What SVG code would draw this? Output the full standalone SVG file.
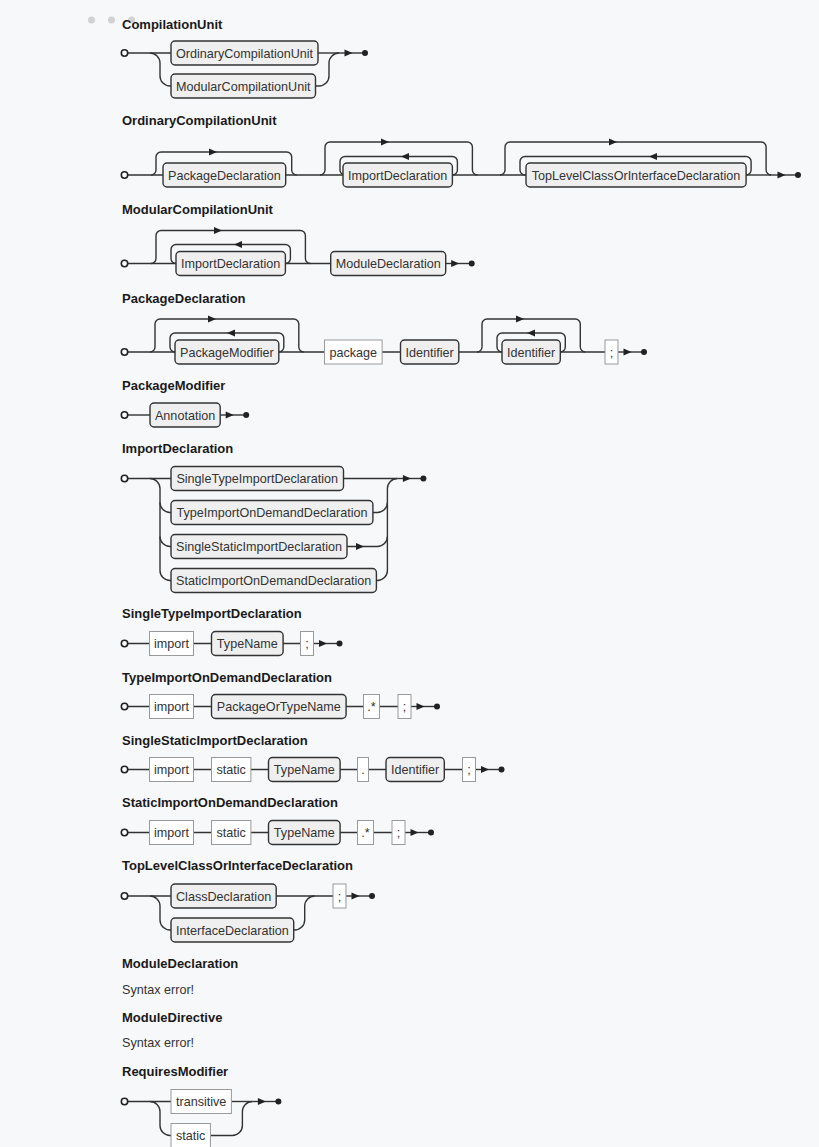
<svg xmlns="http://www.w3.org/2000/svg" xmlns:xlink="http://www.w3.org/1999/xlink" width="819" height="1147" viewBox="0 0 819 1147">
<style>
.t{font-family:"Liberation Sans",Arial,sans-serif;font-weight:bold;font-size:13px;fill:#1a1a1a}
.err{font-family:"Liberation Sans",Arial,sans-serif;font-size:12.6px;fill:#333}
.nt rect{fill:#efefef;stroke:#333;stroke-width:1.4}
.tm rect{fill:#fff;stroke:#9a9a9a;stroke-width:1}
.nt text,.tm text{font-family:"Liberation Sans",Arial,sans-serif;font-size:12.6px;fill:#333;text-anchor:middle}
.c path{fill:none;stroke:#333;stroke-width:1.4}
.st{fill:#fff;stroke:#222;stroke-width:1.6}
.win{fill:#d2d2d4}
</style>
<defs>
<path id="ar" d="M-4,-3.5 L4,0 L-4,3.5 Z" fill="#222"/>
<path id="al" d="M4,-3.5 L-4,0 L4,3.5 Z" fill="#222"/>
<g id="end"><path d="M0,0 H24" fill="none" stroke="#333" stroke-width="1.4"/><path d="M5.5,-3.5 L13.5,0 L5.5,3.5 Z" fill="#222"/><circle cx="26" cy="0" r="3" fill="#222"/></g>
</defs>
<rect width="819" height="1147" fill="#f7f8fa"/>
<circle class="win" cx="91.5" cy="20" r="3.5"/><circle class="win" cx="111.5" cy="20" r="3.5"/><circle class="win" cx="131.5" cy="20" r="3.5"/>

<!-- CompilationUnit -->
<g id="d-compilationunit">
<text class="t" x="122" y="28.5">CompilationUnit</text>
<g class="c" id="c-cu">
<path d="M128,53 H171"/>
<path d="M150,53 A10,10 0 0 1 160,63 V76 A10,10 0 0 0 170,86 H171"/>
<path d="M318,53 H339"/>
<path d="M315.5,86 H319 A10,10 0 0 0 329,76 V63 A10,10 0 0 1 339,53"/>
<use href="#end" x="339" y="53"/>
</g>
<circle class="st" cx="124.5" cy="53" r="3.2"/>
<g id="cu-ord" class="nt"><rect x="171" y="41" width="147" height="24" rx="4"/><text x="244.5" y="57.5">OrdinaryCompilationUnit</text></g>
<g id="cu-mod" class="nt"><rect x="171" y="74" width="144.5" height="24" rx="4"/><text x="243.25" y="90.5">ModularCompilationUnit</text></g>
</g>

<!-- OrdinaryCompilationUnit -->
<g id="d-ordinary">
<text class="t" x="122" y="124.5">OrdinaryCompilationUnit</text>
<g class="c" id="c-ord">
<path d="M128,175 H163"/>
<path d="M151,175 A5,5 0 0 0 156,170 V157 A5,5 0 0 1 161,152 H286.7 A5,5 0 0 1 291.7,157 V170 A5,5 0 0 0 296.7,175"/>
<path d="M285.7,175 H343"/>
<path d="M320,175 A5,5 0 0 0 325,170 V147 A5,5 0 0 1 330,142 H467.4 A5,5 0 0 1 472.4,147 V170 A5,5 0 0 0 477.4,175"/>
<path d="M452.4,175 A5,5 0 0 0 457.4,170 V161.5 A5,5 0 0 0 452.4,156.5 H345 A5,5 0 0 0 340,161.5 V170 A5,5 0 0 0 345,175"/>
<path d="M452.4,175 H526"/>
<path d="M500,175 A5,5 0 0 0 505,170 V147 A5,5 0 0 1 510,142 H761.1 A5,5 0 0 1 766.1,147 V170 A5,5 0 0 0 771.1,175"/>
<path d="M746.1,175 A5,5 0 0 0 751.1,170 V161.5 A5,5 0 0 0 746.1,156.5 H525 A5,5 0 0 0 520,161.5 V170 A5,5 0 0 0 525,175"/>
<path d="M746.1,175 H772"/>
<use href="#ar" x="213" y="152"/>
<use href="#ar" x="385" y="142"/>
<use href="#al" x="405" y="156.5"/>
<use href="#ar" x="613" y="142"/>
<use href="#al" x="653" y="156.5"/>
<use href="#end" x="772" y="175"/>
</g>
<circle class="st" cx="124.5" cy="175" r="3.2"/>
<g id="ord-pkg" class="nt"><rect x="163" y="163" width="122.7" height="24" rx="4"/><text x="224.35" y="179.5">PackageDeclaration</text></g>
<g id="ord-imp" class="nt"><rect x="343" y="163" width="109.4" height="24" rx="4"/><text x="397.7" y="179.5">ImportDeclaration</text></g>
<g id="ord-top" class="nt"><rect x="526" y="163" width="220.1" height="24" rx="4"/><text x="636.05" y="179.5">TopLevelClassOrInterfaceDeclaration</text></g>
</g>

<!-- ModularCompilationUnit -->
<g id="d-modular">
<text class="t" x="122" y="214">ModularCompilationUnit</text>
<g class="c" id="c-mod">
<path d="M128,263.5 H176"/>
<path d="M151,263.5 A5,5 0 0 0 156,258.5 V235.5 A5,5 0 0 1 161,230.5 H300.4 A5,5 0 0 1 305.4,235.5 V258.5 A5,5 0 0 0 310.4,263.5"/>
<path d="M285.4,263.5 A5,5 0 0 0 290.4,258.5 V249.5 A5,5 0 0 0 285.4,244.5 H176 A5,5 0 0 0 171,249.5 V258.5 A5,5 0 0 0 176,263.5"/>
<path d="M285.4,263.5 H330.7"/>
<use href="#ar" x="218" y="230.5"/>
<use href="#al" x="238" y="244.5"/>
<use href="#end" x="445.7" y="263.5"/>
</g>
<circle class="st" cx="124.5" cy="263.5" r="3.2"/>
<g id="mod-imp" class="nt"><rect x="176" y="251.5" width="109.4" height="24" rx="4"/><text x="230.7" y="268">ImportDeclaration</text></g>
<g id="mod-module" class="nt"><rect x="330.7" y="251.5" width="115" height="24" rx="4"/><text x="388.2" y="268">ModuleDeclaration</text></g>
</g>

<!-- PackageDeclaration -->
<g id="d-package">
<text class="t" x="122" y="303">PackageDeclaration</text>
<g class="c" id="c-pkg">
<path d="M128,352 H175"/>
<path d="M150,352 A5,5 0 0 0 155,347 V324 A5,5 0 0 1 160,319 H293.8 A5,5 0 0 1 298.8,324 V347 A5,5 0 0 0 303.8,352"/>
<path d="M278.8,352 A5,5 0 0 0 283.8,347 V338 A5,5 0 0 0 278.8,333 H175 A5,5 0 0 0 170,338 V347 A5,5 0 0 0 175,352"/>
<path d="M278.8,352 H502"/>
<path d="M477,352 A5,5 0 0 0 482,347 V324 A5,5 0 0 1 487,319 H575.3 A5,5 0 0 1 580.3,324 V347 A5,5 0 0 0 585.3,352"/>
<path d="M560.3,352 A5,5 0 0 0 565.3,347 V338 A5,5 0 0 0 560.3,333 H502 A5,5 0 0 0 497,338 V347 A5,5 0 0 0 502,352"/>
<path d="M560.3,352 H605"/>
<use href="#ar" x="212" y="319"/>
<use href="#al" x="231" y="333"/>
<use href="#ar" x="520" y="319"/>
<use href="#al" x="531" y="333"/>
<use href="#end" x="618" y="352"/>
</g>
<circle class="st" cx="124.5" cy="352" r="3.2"/>
<g id="pkg-mod" class="nt"><rect x="175" y="340" width="103.8" height="24" rx="4"/><text x="226.9" y="356.5">PackageModifier</text></g>
<g id="pkg-kw" class="tm"><rect x="324.5" y="340" width="57.6" height="24"/><text x="353.3" y="356.5">package</text></g>
<g id="pkg-id1" class="nt"><rect x="400.5" y="340" width="58.3" height="24" rx="4"/><text x="429.65" y="356.5">Identifier</text></g>
<g id="pkg-id2" class="nt"><rect x="502" y="340" width="58.3" height="24" rx="4"/><text x="531.15" y="356.5">Identifier</text></g>
<g id="pkg-semi" class="tm"><rect x="605" y="340" width="13" height="24"/><text x="611.5" y="356.5">;</text></g>
</g>

<!-- PackageModifier -->
<g id="d-packagemodifier">
<text class="t" x="122" y="390">PackageModifier</text>
<g class="c" id="c-pm">
<path d="M128,415 H150"/>
<use href="#end" x="220.2" y="415"/>
</g>
<circle class="st" cx="124.5" cy="415" r="3.2"/>
<g id="pm-ann" class="nt"><rect x="150" y="403" width="70.2" height="24" rx="4"/><text x="185.1" y="419.5">Annotation</text></g>
</g>

<!-- ImportDeclaration -->
<g id="d-import">
<text class="t" x="122" y="453">ImportDeclaration</text>
<g class="c" id="c-imp">
<path d="M128,478.5 H171"/>
<path d="M150,478.5 A10,10 0 0 1 160,488.5 V570.5 A10,10 0 0 0 170,580.5 H171"/>
<path d="M160,502.5 A10,10 0 0 0 170,512.5 H171"/>
<path d="M160,536.5 A10,10 0 0 0 170,546.5 H171"/>
<path d="M343.5,478.5 H397.4"/>
<path d="M372.9,512.5 H377.4 A10,10 0 0 0 387.4,502.5"/>
<path d="M347,546.5 H377.4 A10,10 0 0 0 387.4,536.5"/>
<path d="M376.4,580.5 H377.4 A10,10 0 0 0 387.4,570.5 V488.5 A10,10 0 0 1 397.4,478.5"/>
<use href="#ar" x="360" y="546.5"/>
<use href="#end" x="397.4" y="478.5"/>
</g>
<circle class="st" cx="124.5" cy="478.5" r="3.2"/>
<g id="imp-st" class="nt"><rect x="171" y="466.5" width="172.5" height="24" rx="4"/><text x="257.25" y="483">SingleTypeImportDeclaration</text></g>
<g id="imp-tod" class="nt"><rect x="171" y="500.5" width="201.9" height="24" rx="4"/><text x="271.95" y="517">TypeImportOnDemandDeclaration</text></g>
<g id="imp-ss" class="nt"><rect x="171" y="534.5" width="176" height="24" rx="4"/><text x="259" y="551">SingleStaticImportDeclaration</text></g>
<g id="imp-sod" class="nt"><rect x="171" y="568.5" width="205.4" height="24" rx="4"/><text x="273.7" y="585">StaticImportOnDemandDeclaration</text></g>
</g>

<!-- SingleTypeImportDeclaration -->
<g id="d-singletype">
<text class="t" x="122" y="617.5">SingleTypeImportDeclaration</text>
<g class="c" id="c-st">
<path d="M128,643.5 H300.5"/>
<use href="#end" x="313.5" y="643.5"/>
</g>
<circle class="st" cx="124.5" cy="643.5" r="3.2"/>
<g id="st-import" class="tm"><rect x="149.5" y="631.5" width="44" height="24"/><text x="171.5" y="648">import</text></g>
<g id="st-type" class="nt"><rect x="211.5" y="631.5" width="71.6" height="24" rx="4"/><text x="247.3" y="648">TypeName</text></g>
<g id="st-semi" class="tm"><rect x="300.5" y="631.5" width="13" height="24"/><text x="307" y="648">;</text></g>
</g>

<!-- TypeImportOnDemandDeclaration -->
<g id="d-typeondemand">
<text class="t" x="122" y="681.5">TypeImportOnDemandDeclaration</text>
<g class="c" id="c-tod">
<path d="M128,706.5 H398"/>
<use href="#end" x="411" y="706.5"/>
</g>
<circle class="st" cx="124.5" cy="706.5" r="3.2"/>
<g id="tod-import" class="tm"><rect x="149.5" y="694.5" width="44" height="24"/><text x="171.5" y="711">import</text></g>
<g id="tod-pkg" class="nt"><rect x="211.5" y="694.5" width="134.6" height="24" rx="4"/><text x="278.8" y="711">PackageOrTypeName</text></g>
<g id="tod-star" class="tm"><rect x="363.5" y="694.5" width="16" height="24"/><text x="371.5" y="711">.*</text></g>
<g id="tod-semi" class="tm"><rect x="398" y="694.5" width="13" height="24"/><text x="404.5" y="711">;</text></g>
</g>

<!-- SingleStaticImportDeclaration -->
<g id="d-singlestatic">
<text class="t" x="122" y="745">SingleStaticImportDeclaration</text>
<g class="c" id="c-ss">
<path d="M128,769.5 H462.5"/>
<use href="#end" x="475.5" y="769.5"/>
</g>
<circle class="st" cx="124.5" cy="769.5" r="3.2"/>
<g id="ss-import" class="tm"><rect x="149.5" y="757.5" width="44" height="24"/><text x="171.5" y="774">import</text></g>
<g id="ss-static" class="tm"><rect x="211.5" y="757.5" width="39.4" height="24"/><text x="231.2" y="774">static</text></g>
<g id="ss-type" class="nt"><rect x="268.5" y="757.5" width="71.6" height="24" rx="4"/><text x="304.3" y="774">TypeName</text></g>
<g id="ss-dot" class="tm"><rect x="357.5" y="757.5" width="11" height="24"/><text x="363" y="774">.</text></g>
<g id="ss-id" class="nt"><rect x="386" y="757.5" width="58.3" height="24" rx="4"/><text x="415.15" y="774">Identifier</text></g>
<g id="ss-semi" class="tm"><rect x="462.5" y="757.5" width="13" height="24"/><text x="469" y="774">;</text></g>
</g>

<!-- StaticImportOnDemandDeclaration -->
<g id="d-staticondemand">
<text class="t" x="122" y="806.5">StaticImportOnDemandDeclaration</text>
<g class="c" id="c-sod">
<path d="M128,832.5 H392"/>
<use href="#end" x="405" y="832.5"/>
</g>
<circle class="st" cx="124.5" cy="832.5" r="3.2"/>
<g id="sod-import" class="tm"><rect x="149.5" y="820.5" width="44" height="24"/><text x="171.5" y="837">import</text></g>
<g id="sod-static" class="tm"><rect x="211.5" y="820.5" width="39.4" height="24"/><text x="231.2" y="837">static</text></g>
<g id="sod-type" class="nt"><rect x="268.5" y="820.5" width="71.6" height="24" rx="4"/><text x="304.3" y="837">TypeName</text></g>
<g id="sod-star" class="tm"><rect x="357.5" y="820.5" width="16" height="24"/><text x="365.5" y="837">.*</text></g>
<g id="sod-semi" class="tm"><rect x="392" y="820.5" width="13" height="24"/><text x="398.5" y="837">;</text></g>
</g>

<!-- TopLevelClassOrInterfaceDeclaration -->
<g id="d-toplevel">
<text class="t" x="122" y="870">TopLevelClassOrInterfaceDeclaration</text>
<g class="c" id="c-tl">
<path d="M128,896 H171"/>
<path d="M150,896 A10,10 0 0 1 160,906 V920 A10,10 0 0 0 170,930 H171"/>
<path d="M276.2,896 H333"/>
<path d="M293.7,930 H294.7 A10,10 0 0 0 304.7,920 V906 A10,10 0 0 1 314.7,896"/>
<use href="#end" x="346" y="896"/>
</g>
<circle class="st" cx="124.5" cy="896" r="3.2"/>
<g id="tl-class" class="nt"><rect x="171" y="884" width="105.2" height="24" rx="4"/><text x="223.6" y="900.5">ClassDeclaration</text></g>
<g id="tl-iface" class="nt"><rect x="171" y="918" width="122.7" height="24" rx="4"/><text x="232.35" y="934.5">InterfaceDeclaration</text></g>
<g id="tl-semi" class="tm"><rect x="333" y="884" width="13" height="24"/><text x="339.5" y="900.5">;</text></g>
</g>

<!-- ModuleDeclaration -->
<g id="d-moduledecl">
<text class="t" x="122" y="967.5">ModuleDeclaration</text>
<text class="err" x="122" y="993.5">Syntax error!</text>
</g>

<!-- ModuleDirective -->
<g id="d-moduledir">
<text class="t" x="122" y="1021.5">ModuleDirective</text>
<text class="err" x="122" y="1047">Syntax error!</text>
</g>

<!-- RequiresModifier -->
<g id="d-requires">
<text class="t" x="122" y="1076">RequiresModifier</text>
<g class="c" id="c-rm">
<path d="M128,1101.5 H171"/>
<path d="M150,1101.5 A10,10 0 0 1 160,1111.5 V1125.5 A10,10 0 0 0 170,1135.5 H171"/>
<path d="M231.4,1101.5 H252.4"/>
<path d="M210.4,1135.5 H232.4 A10,10 0 0 0 242.4,1125.5 V1111.5 A10,10 0 0 1 252.4,1101.5"/>
<use href="#end" x="252.4" y="1101.5"/>
</g>
<circle class="st" cx="124.5" cy="1101.5" r="3.2"/>
<g id="rm-trans" class="tm"><rect x="171" y="1089.5" width="60.4" height="24"/><text x="201.2" y="1106">transitive</text></g>
<g id="rm-static" class="tm"><rect x="171" y="1123.5" width="39.4" height="24"/><text x="190.7" y="1140">static</text></g>
</g>
</svg>
